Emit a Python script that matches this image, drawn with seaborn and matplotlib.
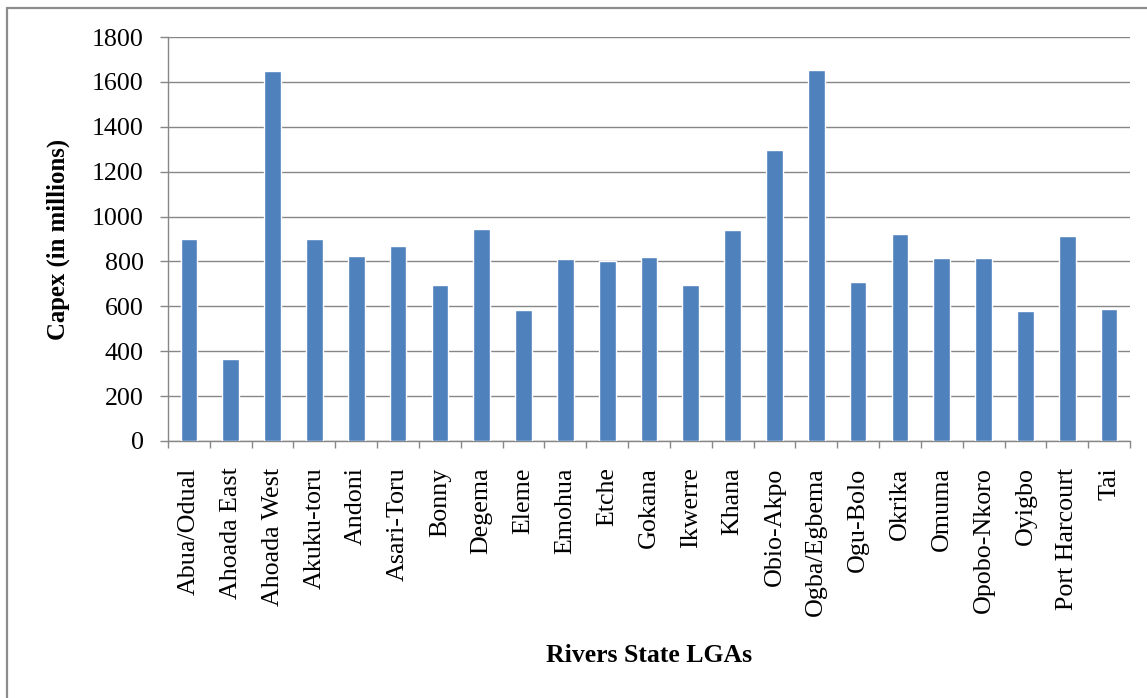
import matplotlib
matplotlib.use("Agg")
import matplotlib.pyplot as plt
from matplotlib.lines import Line2D
import seaborn as sns
import pandas as pd
import numpy as np

# Capital expenditure per Local Government Area, Rivers State
lgas = [
    "Abua/Odual", "Ahoada East", "Ahoada West", "Akuku-toru", "Andoni",
    "Asari-Toru", "Bonny", "Degema", "Eleme", "Emohua", "Etche", "Gokana",
    "Ikwerre", "Khana", "Obio-Akpo", "Ogba/Egbema", "Ogu-Bolo", "Okrika",
    "Omuma", "Opobo-Nkoro", "Oyigbo", "Port Harcourt", "Tai",
]
capex = [
    902, 367, 1647, 900, 823,
    869, 697, 943, 585, 811, 803, 820,
    697, 942, 1298, 1654, 710, 922,
    815, 815, 581, 915, 588,
]
y_ticks = [0, 200, 400, 600, 800, 1000, 1200, 1400, 1600, 1800]

df = pd.DataFrame({"LGA": lgas, "Capex": capex})

sns.set_theme(style="white")
plt.rcParams["font.family"] = ["Liberation Serif", "DejaVu Serif"]

W, H = 1147, 698
fig = plt.figure(figsize=(W / 100, H / 100), dpi=100)
ax = fig.add_axes([168 / W, 1 - 441 / H, (1130 - 168) / W, (441 - 37) / H])

grey = "#878787"
bar_blue = "#4F81BD"

sns.barplot(data=df, x="LGA", y="Capex", color=bar_blue, width=0.4,
            saturation=1, ax=ax, zorder=3)

ax.set_xlim(-0.5, len(lgas) - 0.5)
ax.set_ylim(0, 1800)
ax.set_yticks(y_ticks)
ax.set_yticklabels([str(v) for v in y_ticks], fontsize=18.7, color="black")
ax.yaxis.grid(True, color=grey, linewidth=1.0, zorder=0)
ax.set_axisbelow(True)

# category labels, rotated, ticks placed between categories
ax.set_xticks(np.arange(len(lgas)))
ax.set_xticklabels(lgas, rotation=90, fontsize=18.7, color="black",
                   va="top", ha="center")
ax.set_xticks(np.arange(len(lgas) + 1) - 0.5, minor=True)
ax.tick_params(axis="x", which="major", length=0, pad=19)
ax.tick_params(axis="x", which="minor", length=5, width=1.0, color=grey,
               direction="out", bottom=True)
ax.tick_params(axis="y", which="major", length=5.8, width=1.0, color=grey,
               direction="out", left=True, pad=11.5)

for side in ("top", "right"):
    ax.spines[side].set_visible(False)
for side in ("left", "bottom"):
    ax.spines[side].set_color(grey)
    ax.spines[side].set_linewidth(1.0)

ax.set_xlabel("")
ax.set_ylabel("")
fig.text(649 / W, 1 - 655 / H, "Rivers State LGAs", ha="center", va="center",
         fontsize=18.5, fontweight="bold", color="black")
fig.text(58 / W, 1 - 239 / H, "Capex (in millions)", ha="center", va="center",
         rotation=90, fontsize=17.8, fontweight="bold", color="black")

# chart-area frame
frame_grey = "#8C8C8C"
fig.add_artist(Line2D([7 / W, 1.0], [1 - 8 / H, 1 - 8 / H],
                      transform=fig.transFigure, color=frame_grey, linewidth=1.6))
fig.add_artist(Line2D([7 / W, 7 / W], [1 - 8 / H, 0.0],
                      transform=fig.transFigure, color=frame_grey, linewidth=1.6))

fig.savefig("out.png", dpi=100, facecolor="white")
